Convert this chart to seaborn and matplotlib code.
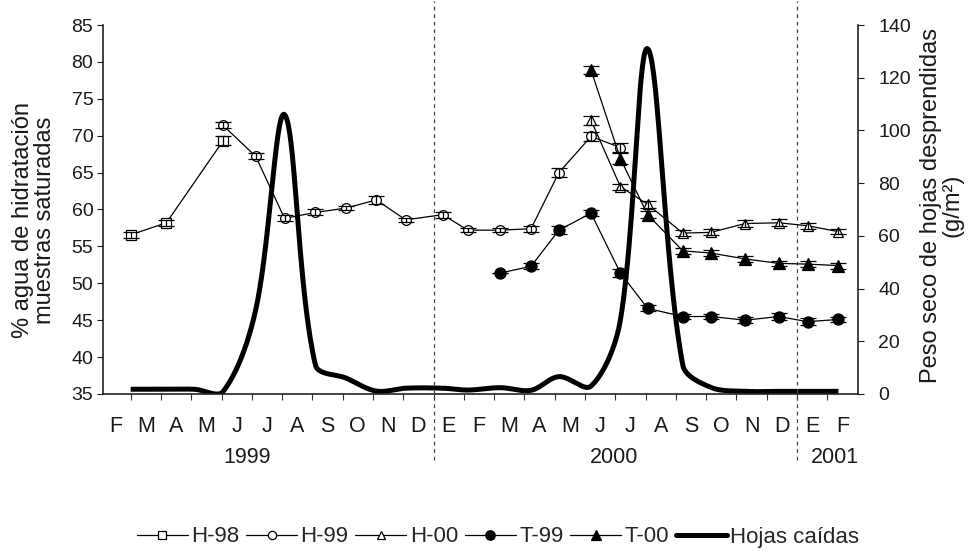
import numpy as np
import pandas as pd
import matplotlib
matplotlib.use("Agg")
import matplotlib.pyplot as plt
from matplotlib.lines import Line2D
import seaborn as sns

# ---------------- data ----------------
month_labels = ["F", "M", "A", "M", "J", "J", "A", "S", "O", "N", "D", "E",
                "F", "M", "A", "M", "J", "J", "A", "S", "O", "N", "D", "E", "F"]
year_labels = ["1999", "2000", "2001"]
year_pos = [4.83, 16.97, 24.27]
year_breaks = [11, 23]

# x positions in months since 1 Feb 1999
h98_x = [1.02, 2.18, 4.05]
h98_y = [56.6, 58.2, 69.3]
h98_e = [0.4, 0.4, 0.6]

h99_x = [4.05, 5.13, 6.08, 7.10, 8.12, 9.11, 10.08, 11.31, 12.13, 13.21, 14.22, 15.14, 16.20, 17.17]
h99_y = [71.4, 67.2, 58.8, 59.6, 60.2, 61.3, 58.6, 59.3, 57.2, 57.2, 57.4, 65.0, 69.9, 68.4]
h99_e = [0.4, 0.4, 0.4, 0.4, 0.3, 0.5, 0.3, 0.4, 0.3, 0.3, 0.4, 0.6, 0.6, 0.6]

h00_x = [16.20, 17.17, 18.07, 19.23, 20.16, 21.29, 22.40, 23.35, 24.37]
h00_y = [72.1, 63.1, 60.7, 56.8, 56.9, 58.1, 58.2, 57.8, 57.0]
h00_e = [0.6, 0.4, 0.5, 0.4, 0.4, 0.5, 0.5, 0.4, 0.3]

t99_x = [13.21, 14.22, 15.14, 16.20, 17.17, 18.07, 19.23, 20.16, 21.29, 22.40, 23.35, 24.37]
t99_y = [51.4, 52.3, 57.2, 59.5, 51.4, 46.6, 45.5, 45.5, 45.0, 45.5, 44.8, 45.1]
t99_e = [0.0, 0.4, 0.5, 0.4, 0.6, 0.4, 0.4, 0.4, 0.4, 0.5, 0.5, 0.3]

t00_x = [16.20, 17.17, 18.07, 19.23, 20.16, 21.29, 22.40, 23.35, 24.37]
t00_y = [78.9, 66.9, 59.3, 54.4, 54.1, 53.3, 52.7, 52.6, 52.4]
t00_e = [0.6, 0.7, 0.5, 0.4, 0.4, 0.4, 0.3, 0.4, 0.4]

hc_x = [1.0, 2.18, 3.1, 4.05, 5.13, 6.08, 7.10, 8.12, 9.11, 10.08, 11.31, 12.13,
        13.21, 14.22, 15.14, 16.20, 17.17, 18.07, 19.23, 20.16, 21.29, 22.40, 23.35, 24.37]
hc_y = [1.8, 1.8, 1.8, 0.9, 32, 106, 11, 6.0, 1.1, 2.2, 2.2, 1.5,
        2.4, 1.4, 6.6, 3.0, 28, 131, 11, 2.5, 1.0, 1.0, 1.0, 1.0]

# ---------------- geometry ----------------
X0, X1 = 0.086, 25.0
AX_L, AX_R, AX_T, AX_B = 103, 857.5, 25, 394
XS = (AX_R - AX_L) / (X1 - X0)        # px per month
YS2 = (AX_B - AX_T) / 140.0           # px per g/m2


def smooth_path(xs, ys, sx, sy, n=40):
    """Excel-like smoothed line: Bezier through points, tangents weighted by chord length."""
    P = np.column_stack([np.asarray(xs) * sx, np.asarray(ys) * sy]).astype(float)
    m = len(P)
    out = []
    t = np.linspace(0, 1, n)[:, None]
    for i in range(m - 1):
        p0 = P[i - 1] if i > 0 else P[i]
        p1, p2 = P[i], P[i + 1]
        p3 = P[i + 2] if i + 2 < m else P[i + 1]
        d01 = np.linalg.norm(p1 - p0)
        d12 = np.linalg.norm(p2 - p1)
        d23 = np.linalg.norm(p3 - p2)
        f1 = d12 / (3.0 * (d01 + d12)) if (d01 + d12) > 0 else 0
        f2 = d12 / (3.0 * (d12 + d23)) if (d12 + d23) > 0 else 0
        b1 = p1 + (p2 - p0) * f1
        b2 = p2 - (p3 - p1) * f2
        seg = ((1 - t) ** 3) * p1 + 3 * ((1 - t) ** 2) * t * b1 + 3 * (1 - t) * t ** 2 * b2 + t ** 3 * p2
        out.append(seg if i == 0 else seg[1:])
    out = np.vstack(out)
    return out[:, 0] / sx, out[:, 1] / sy


# ---------------- style ----------------
sns.set_theme(style="ticks")
plt.rcParams['font.family'] = ['Liberation Sans', 'DejaVu Sans']
plt.rcParams['font.size'] = 12
TXT = "#1a1a1a"

fig = plt.figure(figsize=(9.76, 5.51), dpi=100)
ax = fig.add_axes([AX_L / 976, 1 - AX_B / 551, (AX_R - AX_L) / 976, (AX_B - AX_T) / 551])
ax2 = ax.twinx()

series = [
    ("H-98", h98_x, h98_y, h98_e, "s", "white", 6.5),
    ("H-99", h99_x, h99_y, h99_e, "o", "white", 7),
    ("H-00", h00_x, h00_y, h00_e, "^", "white", 7.5),
    ("T-99", t99_x, t99_y, t99_e, "o", "black", 8),
    ("T-00", t00_x, t00_y, t00_e, "^", "black", 8.5),
]

handles = []
for name, xs, ys, es, mk, fc, ms in series:
    df = pd.DataFrame({"x": xs, "y": ys})
    sns.lineplot(data=df, x="x", y="y", ax=ax, color="black", lw=0.9, sort=False,
                 estimator=None, marker=mk, markersize=ms, markerfacecolor=fc,
                 markeredgecolor="black", markeredgewidth=0.9, zorder=3)
    ax.errorbar(xs, ys, yerr=es, fmt="none", ecolor="black", elinewidth=0.9,
                capsize=6, capthick=0.9, zorder=3)
    handles.append(Line2D([], [], color="black", lw=0.9, marker=mk, markersize=ms * 0.85,
                          markerfacecolor=fc, markeredgecolor="black", markeredgewidth=0.9,
                          label=name))

sx_, sy_ = smooth_path(hc_x, hc_y, XS, YS2)
hc_df = pd.DataFrame({"x": sx_, "y": sy_})
sns.lineplot(data=hc_df, x="x", y="y", ax=ax2, color="black", lw=3.6, sort=False,
             estimator=None, solid_capstyle="butt", zorder=2)
handles.append(Line2D([], [], color="black", lw=3.6, label="Hojas caídas"))

ax.set_zorder(ax2.get_zorder() + 1)
ax.patch.set_visible(False)

# axes limits / ticks
ax.set_xlim(X0, X1)
ax.set_ylim(35, 85)
ax.set_yticks(np.arange(35, 86, 5))
ax2.set_ylim(0, 140)
ax2.set_yticks(np.arange(0, 141, 20))

ax.set_xticks(np.arange(1, 25))
ax.set_xticklabels([])
ax.set_xticks(np.arange(0.5, 25, 1), minor=True)
ax.set_xticklabels(month_labels, minor=True)
ax.tick_params(axis="x", which="major", direction="out", length=4, width=0.8, color="#333")
ax.tick_params(axis="x", which="minor", length=0, pad=16, labelsize=15.5, colors=TXT)
ax.tick_params(axis="y", direction="out", length=4, width=0.8, labelsize=14, pad=3, colors=TXT)
ax2.tick_params(axis="y", direction="out", length=4, width=0.8, labelsize=14, pad=11, colors=TXT)

for a in (ax, ax2):
    a.set_xlabel("")
    a.set_ylabel("")
    a.spines["top"].set_visible(False)
    for s in ("left", "right", "bottom"):
        a.spines[s].set_linewidth(1.2)
        a.spines[s].set_color("#222")
ax.spines["right"].set_visible(False)
ax2.spines["left"].set_visible(False)
ax2.spines["bottom"].set_visible(False)

# year separators and year labels
for xb in year_breaks:
    ax.axvline(xb, ymin=-0.18, ymax=1.065, color="#444", lw=0.9, ls=(0, (3, 3)),
               clip_on=False, zorder=1)
for lab, xp in zip(year_labels, year_pos):
    ax.text(xp, -0.173, lab, transform=ax.get_xaxis_transform(), ha="center",
            va="center", fontsize=15.5, color=TXT)

# axis titles
fig.text(34 / 976, 1 - 220 / 551, "% agua de hidratación\nmuestras saturadas",
         rotation=90, ha="center", va="center", multialignment="center",
         fontsize=17, color=TXT, linespacing=1.0)
fig.text(942 / 976, 1 - 205 / 551, "Peso seco de hojas desprendidas\n(g/m²)",
         rotation=90, ha="center", va="center", multialignment="center",
         fontsize=17, color=TXT, linespacing=0.95)

fig.legend(handles=handles, loc="center", bbox_to_anchor=(498 / 976, 1 - 537 / 551),
           ncol=6, frameon=False, handlelength=2.3, handletextpad=0.15,
           columnspacing=0.3, prop={"size": 16})

fig.savefig("out.png", dpi=100)
